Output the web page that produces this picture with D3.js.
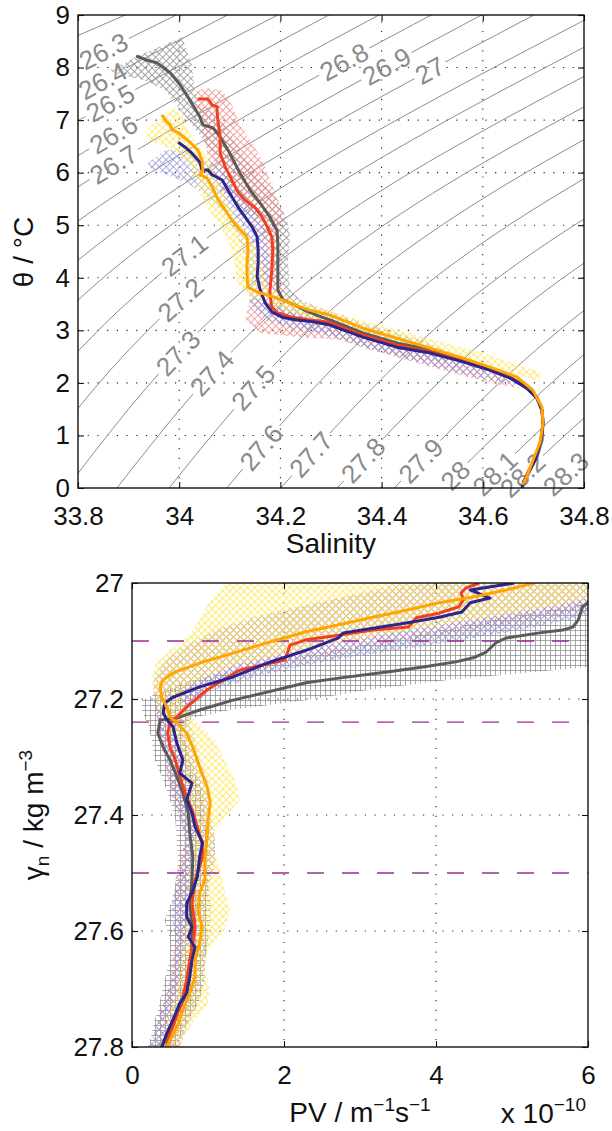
<!DOCTYPE html>
<html>
<head>
<meta charset="utf-8">
<title>Theta-S and PV profiles</title>
<script src="https://d3js.org/d3.v7.min.js"></script>
<style>
  body { margin: 0; background: #fff; }
</style>
</head>
<body>
<div id="chart"></div>
<script>
// ---------- data ----------
const salTicks = [33.8, 34, 34.2, 34.4, 34.6, 34.8];
const thetaTicks = [0, 1, 2, 3, 4, 5, 6, 7, 8, 9];
const pvTicks = [0, 2, 4, 6];
const gammaTicks = [27, 27.2, 27.4, 27.6, 27.8];
const gammaLayers = [27.1, 27.24, 27.5];

// density contours: salinity read at theta = 0, 3, 6, 9.5
const contourLevels = [26.2, 26.3, 26.4, 26.5, 26.6, 26.7, 26.8, 26.9, 27.0, 27.1, 27.2,
  27.3, 27.4, 27.5, 27.6, 27.7, 27.8, 27.9, 28.0, 28.1, 28.2, 28.3];
const contourTheta = [0, 3, 6, 9.5];
const contourSal = [
  [32.297, 32.673, 33.203, 34.014],
  [32.662, 32.950, 33.392, 34.100],
  [32.860, 33.116, 33.525, 34.196],
  [32.949, 33.208, 33.621, 34.296],
  [33.122, 33.358, 33.746, 34.393],
  [33.218, 33.455, 33.844, 34.492],
  [33.307, 33.549, 33.943, 34.596],
  [33.412, 33.651, 34.044, 34.695],
  [33.492, 33.739, 34.140, 34.800],
  [33.583, 33.840, 34.250, 34.921],
  [33.679, 33.938, 34.350, 35.024],
  [33.778, 34.041, 34.457, 35.136],
  [33.877, 34.146, 34.568, 35.253],
  [33.980, 34.256, 34.685, 35.379],
  [34.094, 34.381, 34.821, 35.527],
  [34.201, 34.502, 34.955, 35.678],
  [34.312, 34.626, 35.093, 35.830],
  [34.425, 34.751, 35.229, 35.980],
  [34.520, 34.858, 35.348, 36.110],
  [34.594, 34.940, 35.440, 36.210],
  [34.651, 35.007, 35.515, 36.300],
  [34.733, 35.098, 35.615, 36.410]
];
// contour labels: [level, salinity, theta]
const contourLabels = [
  [26.3, 33.853, 8.26], [26.4, 33.849, 7.76], [26.5, 33.863, 7.33], [26.6, 33.869, 6.76],
  [26.7, 33.873, 6.11], [26.8, 34.328, 8.09], [26.9, 34.409, 8.03], [27.0, 34.496, 7.94],
  [27.1, 34.021, 4.30], [27.2, 34.011, 3.48], [27.3, 34.000, 2.55], [27.4, 34.061, 2.21],
  [27.5, 34.146, 1.92], [27.6, 34.160, 0.78], [27.7, 34.255, 0.69], [27.8, 34.359, 0.57],
  [27.9, 34.472, 0.57], [28.0, 34.541, 0.29], [28.1, 34.618, 0.34], [28.2, 34.673, 0.30],
  [28.3, 34.757, 0.34]
];

// theta-S profiles [salinity, theta]
const tsGray = [[33.915,8.22],[33.936,8.14],[33.956,8.09],[33.982,7.90],[34.002,7.67],[34.021,7.38],
  [34.041,7.06],[34.047,6.91],[34.067,6.85],[34.081,6.68],[34.100,6.37],[34.120,5.99],[34.140,5.67],
  [34.160,5.42],[34.179,5.16],[34.193,4.91],[34.195,4.66],[34.195,4.21],[34.195,3.77],[34.205,3.58],
  [34.229,3.48],[34.255,3.35],[34.282,3.25],[34.298,3.20],[34.363,2.95],[34.430,2.76],[34.496,2.63],
  [34.561,2.44],[34.608,2.28],[34.654,2.11],[34.687,1.92],[34.707,1.73],[34.717,1.48],[34.719,1.24],
  [34.717,0.91],[34.707,0.59],[34.693,0.34],[34.679,0.10]];
const tsRed = [[34.037,7.40],[34.057,7.40],[34.065,7.29],[34.075,7.25],[34.075,7.14],[34.077,6.95],
  [34.081,6.68],[34.081,6.37],[34.091,6.11],[34.104,5.86],[34.116,5.63],[34.130,5.48],[34.150,5.33],
  [34.164,5.16],[34.174,4.97],[34.183,4.78],[34.185,4.53],[34.183,4.15],[34.179,3.71],[34.183,3.44],
  [34.195,3.33],[34.223,3.25],[34.255,3.20],[34.294,3.16],[34.363,2.91],[34.430,2.72],[34.496,2.59],
  [34.561,2.42],[34.608,2.28],[34.654,2.11],[34.687,1.90],[34.707,1.71],[34.717,1.48],[34.719,1.24],
  [34.715,0.91],[34.705,0.59],[34.691,0.34],[34.679,0.06]];
const tsBlue = [[33.998,6.58],[34.011,6.49],[34.025,6.37],[34.041,6.20],[34.045,6.05],[34.057,6.05],
  [34.065,5.96],[34.085,5.86],[34.094,5.71],[34.104,5.54],[34.116,5.35],[34.130,5.16],[34.144,4.97],
  [34.154,4.78],[34.156,4.53],[34.156,4.28],[34.154,4.02],[34.160,3.77],[34.170,3.52],[34.183,3.35],
  [34.203,3.25],[34.229,3.20],[34.268,3.16],[34.298,3.10],[34.363,2.87],[34.430,2.68],[34.496,2.57],
  [34.561,2.40],[34.608,2.26],[34.654,2.09],[34.687,1.90],[34.707,1.71],[34.717,1.48],[34.719,1.24],
  [34.715,0.91],[34.703,0.53],[34.687,0.21],[34.677,0.0]];
const tsOrange = [[33.966,7.10],[33.972,7.00],[33.982,6.91],[33.986,6.82],[33.998,6.76],[34.011,6.66],
  [34.021,6.58],[34.037,6.43],[34.045,6.24],[34.047,6.05],[34.041,5.96],[34.055,5.90],[34.065,5.73],
  [34.077,5.48],[34.091,5.29],[34.104,5.10],[34.120,4.91],[34.134,4.78],[34.136,4.53],[34.134,4.28],
  [34.134,4.02],[34.136,3.82],[34.154,3.73],[34.175,3.67],[34.203,3.58],[34.229,3.48],[34.255,3.39],
  [34.282,3.33],[34.298,3.29],[34.363,3.04],[34.430,2.85],[34.496,2.66],[34.561,2.47],[34.614,2.30],
  [34.668,2.11],[34.699,1.86],[34.717,1.54],[34.719,1.24],[34.713,0.86],[34.699,0.53],[34.687,0.21],
  [34.679,0.06]];

// theta-S spread outlines [salinity, theta]
const tsEnvGray = [[33.863,7.95],[33.923,8.24],[34.006,8.58],[34.011,8.43],[34.025,8.05],[34.031,7.57],
  [34.041,7.29],[34.071,7.10],[34.096,6.82],[34.120,6.43],[34.140,6.15],[34.170,5.77],[34.199,5.39],
  [34.213,5.10],[34.219,4.81],[34.215,4.34],[34.219,3.77],[34.239,3.58],[34.298,3.35],[34.377,3.10],
  [34.476,2.82],[34.535,2.59],[34.529,2.38],[34.456,2.47],[34.377,2.63],[34.318,2.82],[34.258,3.01],
  [34.205,3.23],[34.189,3.58],[34.183,4.15],[34.179,4.62],[34.160,5.00],[34.130,5.29],[34.104,5.58],
  [34.085,5.96],[34.065,6.34],[34.041,6.72],[34.025,6.91],[34.002,7.19],[33.972,7.57],[33.932,7.76],
  [33.883,7.86]];
const tsEnvRed = [[34.031,7.54],[34.051,7.61],[34.085,7.57],[34.104,7.29],[34.120,6.91],[34.140,6.62],
  [34.164,6.24],[34.183,5.77],[34.203,5.29],[34.199,4.72],[34.195,4.15],[34.209,3.58],[34.258,3.29],
  [34.318,3.10],[34.436,2.72],[34.555,2.40],[34.634,2.15],[34.674,1.90],[34.634,1.96],[34.555,2.15],
  [34.436,2.47],[34.318,2.82],[34.239,2.87],[34.160,2.95],[34.130,3.20],[34.140,3.58],[34.156,3.96],
  [34.164,4.53],[34.150,4.91],[34.120,5.29],[34.091,5.58],[34.071,5.86],[34.057,6.24],[34.051,6.62],
  [34.041,7.00],[34.033,7.29]];
const tsEnvBlue = [[33.938,6.18],[33.972,6.43],[34.011,6.43],[34.051,6.24],[34.091,6.05],[34.120,5.67],
  [34.150,5.29],[34.170,4.91],[34.179,4.34],[34.179,3.77],[34.199,3.48],[34.278,3.23],[34.436,2.72],
  [34.594,2.28],[34.674,1.96],[34.594,2.09],[34.436,2.49],[34.298,2.91],[34.229,3.01],[34.170,3.20],
  [34.140,3.48],[34.136,3.96],[34.130,4.43],[34.110,4.91],[34.081,5.29],[34.051,5.58],[34.021,5.77],
  [33.992,5.90],[33.962,6.01],[33.942,6.09]];
const tsEnvOrange = [[33.932,6.76],[33.946,6.91],[33.992,7.23],[34.006,7.16],[34.011,6.91],[34.025,6.68],
  [34.045,6.43],[34.061,6.18],[34.075,5.86],[34.091,5.54],[34.108,5.23],[34.128,4.91],[34.150,4.62],
  [34.164,4.24],[34.170,3.86],[34.219,3.62],[34.357,3.20],[34.476,2.89],[34.594,2.59],[34.713,2.21],
  [34.713,2.02],[34.594,2.36],[34.476,2.68],[34.338,2.97],[34.219,3.35],[34.144,3.63],[34.116,3.86],
  [34.110,4.24],[34.100,4.62],[34.085,4.91],[34.065,5.20],[34.047,5.48],[34.033,5.82],[34.021,6.15],
  [33.998,6.39],[33.962,6.53],[33.938,6.62]];

// PV profiles [PV x1e10, gamma_n]
const pvGray = [[6.2,27.02],[6.00,27.034],[5.93,27.041],[5.87,27.064],[5.80,27.076],[5.67,27.081],
  [5.36,27.086],[4.92,27.095],[4.79,27.103],[4.66,27.119],[4.49,27.129],[4.26,27.136],[3.83,27.145],
  [3.38,27.153],[2.72,27.164],[2.29,27.172],[1.33,27.202],[0.89,27.219],[0.59,27.233],[0.37,27.236],
  [0.34,27.259],[0.41,27.283],[0.50,27.305],[0.59,27.334],[0.67,27.362],[0.74,27.397],[0.76,27.431],
  [0.80,27.472],[0.79,27.512],[0.76,27.552],[0.79,27.593],[0.79,27.628],[0.76,27.667],[0.72,27.707],
  [0.63,27.731],[0.54,27.753],[0.46,27.783],[0.39,27.800]];
const pvRed = [[4.57,27.0],[4.39,27.009],[4.33,27.017],[4.36,27.029],[4.30,27.041],[4.04,27.052],
  [3.74,27.060],[3.64,27.076],[3.17,27.081],[2.72,27.090],[2.29,27.098],[2.08,27.107],[2.01,27.133],
  [1.42,27.150],[0.99,27.184],[0.72,27.214],[0.59,27.231],[0.50,27.241],[0.47,27.259],[0.50,27.283],
  [0.57,27.305],[0.63,27.334],[0.70,27.362],[0.79,27.391],[0.86,27.421],[0.92,27.448],[0.93,27.472],
  [0.83,27.512],[0.79,27.552],[0.83,27.593],[0.80,27.621],[0.76,27.650],[0.72,27.684],[0.66,27.719],
  [0.57,27.753],[0.47,27.788],[0.46,27.80]];
const pvBlue = [[5.03,27.0],[4.45,27.012],[4.71,27.026],[4.45,27.034],[4.34,27.050],[4.04,27.059],
  [3.61,27.069],[3.17,27.078],[2.78,27.086],[2.71,27.095],[2.29,27.116],[1.78,27.138],[1.33,27.162],
  [0.89,27.179],[0.54,27.197],[0.43,27.207],[0.41,27.224],[0.46,27.236],[0.54,27.248],[0.59,27.276],
  [0.67,27.305],[0.63,27.328],[0.79,27.345],[0.72,27.374],[0.79,27.397],[0.83,27.421],[0.93,27.448],
  [0.89,27.472],[0.86,27.507],[0.79,27.534],[0.72,27.552],[0.72,27.576],[0.79,27.593],[0.74,27.610],
  [0.83,27.628],[0.79,27.650],[0.76,27.679],[0.72,27.707],[0.63,27.724],[0.54,27.753],[0.46,27.776],
  [0.39,27.80]];
const pvOrange = [[5.29,27.0],[4.92,27.012],[4.49,27.024],[4.04,27.034],[3.61,27.047],[3.17,27.059],
  [2.72,27.072],[2.29,27.084],[1.78,27.103],[1.33,27.121],[0.89,27.138],[0.54,27.155],[0.41,27.167],
  [0.37,27.179],[0.39,27.197],[0.46,27.214],[0.50,27.231],[0.59,27.241],[0.72,27.259],[0.80,27.283],
  [0.89,27.317],[0.99,27.352],[1.03,27.379],[1.00,27.409],[0.99,27.438],[0.96,27.472],[0.96,27.512],
  [0.89,27.534],[0.87,27.564],[0.92,27.593],[0.89,27.621],[0.83,27.650],[0.83,27.679],[0.76,27.707],
  [0.67,27.736],[0.59,27.766],[0.50,27.788],[0.46,27.80]];

// PV spread [gamma_n, low, high]
const pvEnvGray = [[27.026,6.16,6.16],[27.038,5.87,6.16],[27.064,4.71,6.16],[27.098,3.41,6.16],
  [27.124,2.29,6.16],[27.145,1.55,6.0],[27.167,0.83,4.18],[27.184,0.43,3.13],[27.202,0.13,2.29],
  [27.219,0.13,1.29],[27.233,0.17,0.79],[27.245,0.21,0.70],[27.271,0.26,0.70],[27.305,0.30,0.76],
  [27.340,0.41,0.87],[27.374,0.50,0.96],[27.409,0.57,0.96],[27.443,0.59,0.99],[27.478,0.61,1.03],
  [27.512,0.58,1.00],[27.547,0.53,1.03],[27.581,0.43,1.03],[27.616,0.50,1.00],[27.650,0.50,0.96],
  [27.684,0.43,0.96],[27.719,0.37,0.89],[27.736,0.34,0.83],[27.753,0.30,0.74],[27.788,0.24,0.63],
  [27.800,0.21,0.61]];
const pvEnvRed = [[27.000,3.53,6.16],[27.029,2.61,6.16],[27.055,1.82,5.63],[27.081,1.16,4.45],
  [27.107,0.76,3.26],[27.133,0.47,2.21],[27.159,0.34,1.42],[27.184,0.30,0.96],[27.210,0.30,0.76],
  [27.236,0.33,0.70],[27.271,0.37,0.76],[27.305,0.43,0.83],[27.340,0.47,0.89],[27.374,0.57,1.00],
  [27.409,0.66,1.05],[27.443,0.70,1.09],[27.478,0.63,1.09],[27.512,0.57,1.03],[27.547,0.57,0.96],
  [27.581,0.61,0.96],[27.616,0.57,0.96],[27.650,0.53,0.96],[27.684,0.50,0.89],[27.719,0.43,0.83],
  [27.753,0.34,0.74],[27.788,0.30,0.66],[27.800,0.29,0.63]];
const pvEnvBlue = [[27.000,3.92,6.16],[27.029,2.61,6.16],[27.055,1.68,6.03],[27.081,1.09,5.11],
  [27.107,0.70,3.92],[27.133,0.43,2.61],[27.159,0.30,1.68],[27.184,0.28,1.09],[27.210,0.30,0.79],
  [27.236,0.34,0.76],[27.271,0.37,0.83],[27.305,0.43,0.89],[27.340,0.50,1.00],[27.374,0.53,1.03],
  [27.409,0.63,1.03],[27.443,0.70,1.09],[27.478,0.66,1.09],[27.512,0.61,1.03],[27.547,0.53,0.96],
  [27.581,0.53,0.96],[27.616,0.57,1.00],[27.650,0.57,0.96],[27.684,0.53,0.96],[27.719,0.43,0.87],
  [27.753,0.34,0.76],[27.788,0.26,0.66],[27.800,0.24,0.63]];
const pvEnvOrange = [[27.000,1.22,6.16],[27.021,1.09,6.16],[27.038,0.99,5.63],[27.064,0.89,4.45],
  [27.090,0.74,3.26],[27.116,0.50,2.21],[27.141,0.30,1.36],[27.167,0.26,0.89],[27.184,0.28,0.70],
  [27.210,0.33,0.66],[27.236,0.41,0.83],[27.271,0.57,1.09],[27.305,0.66,1.22],[27.340,0.70,1.36],
  [27.374,0.76,1.42],[27.400,0.79,1.26],[27.426,0.83,1.09],[27.460,0.79,1.07],[27.495,0.76,1.16],
  [27.529,0.74,1.22],[27.564,0.74,1.29],[27.598,0.70,1.22],[27.633,0.67,1.00],[27.667,0.63,0.96],
  [27.702,0.59,1.03],[27.728,0.53,0.99],[27.753,0.47,0.83],[27.779,0.43,0.70],[27.800,0.37,0.63]];

// ---------- styles ----------
const FONT = "'Liberation Sans', Arial, Helvetica, sans-serif";
const lineColor = { gray: "#5b5b5b", red: "#f2401f", blue: "#2c268c", orange: "#ffa600" };
const hatchColor = { gray: "#929292", red: "#f28a8a", blue: "#9a9ad8", orange: "#ffe650" };
const width = 612, height = 1131;

const svg = d3.select("#chart").append("svg")
  .attr("width", width).attr("height", height)
  .style("background", "#fff");
const defs = svg.append("defs");

function hatch(id, color, angle) {
  const p = defs.append("pattern").attr("id", id)
    .attr("patternUnits", "userSpaceOnUse")
    .attr("width", 5).attr("height", 5)
    .attr("patternTransform", `rotate(${angle})`);
  p.append("path").attr("d", "M0,0.5H5M0.5,0V5")
    .attr("stroke", color).attr("stroke-width", 0.8).attr("fill", "none");
}
hatch("hGray", hatchColor.gray, 45);
hatch("hGraySq", hatchColor.gray, 0);
hatch("hRed", hatchColor.red, 45);
hatch("hBlue", hatchColor.blue, 45);
hatch("hOrange", hatchColor.orange, 45);

// ---------- top panel: theta-S ----------
const xS = d3.scaleLinear().domain([33.8, 34.8]).range([78, 584]);
const yT = d3.scaleLinear().domain([0, 9]).range([488, 15]);

defs.append("clipPath").attr("id", "clipTS").append("rect")
  .attr("x", 78).attr("y", 15).attr("width", 506).attr("height", 473);

const ts = svg.append("g");

function grid(g, x, y, xv, yv) {
  const [x0, x1] = x.range(), [ya, yb] = y.range();
  g.append("g").selectAll("line").data(xv).join("line")
    .attr("x1", d => x(d)).attr("x2", d => x(d)).attr("y1", ya).attr("y2", yb);
  g.append("g").selectAll("line").data(yv).join("line")
    .attr("y1", d => y(d)).attr("y2", d => y(d)).attr("x1", x0).attr("x2", x1);
  g.selectAll("line").attr("stroke", "#222").attr("stroke-width", 1.1)
    .attr("stroke-dasharray", "1.2,8.5");
}
grid(ts.append("g"), xS, yT, salTicks.slice(1, -1), thetaTicks.slice(1, -1));

const mask = defs.append("mask").attr("id", "labelGaps")
  .attr("maskUnits", "userSpaceOnUse")
  .attr("x", 0).attr("y", 0).attr("width", width).attr("height", height);
mask.append("rect").attr("width", width).attr("height", height).attr("fill", "#fff");

const cLine = d3.line().x(d => xS(d[0])).y(d => yT(d[1])).curve(d3.curveNatural);
const contours = ts.append("g").attr("clip-path", "url(#clipTS)")
  .append("g").attr("mask", "url(#labelGaps)")
  .selectAll("path").data(contourLevels).join("path")
  .attr("d", (lev, i) => cLine(contourTheta.map((t, j) => [contourSal[i][j], t])))
  .attr("fill", "none").attr("stroke", "#8c8c8c").attr("stroke-width", 1);

const labelG = ts.append("g");
contourLabels.forEach(([lev, s, t]) => {
  const node = contours.nodes()[contourLevels.indexOf(lev)];
  const tx = xS(s), ty = yT(t), L = node.getTotalLength();
  let best = 0, bd = Infinity;
  for (let l = 0; l <= L; l += 1) {
    const p = node.getPointAtLength(l);
    const dd = (p.x - tx) ** 2 + (p.y - ty) ** 2;
    if (dd < bd) { bd = dd; best = l; }
  }
  const p = node.getPointAtLength(best);
  const a = node.getPointAtLength(Math.max(0, best - 10));
  const b = node.getPointAtLength(Math.min(L, best + 10));
  const ang = Math.atan2(b.y - a.y, b.x - a.x) * 180 / Math.PI;
  const tr = `translate(${p.x},${p.y}) rotate(${ang})`;
  const txt = labelG.append("text").attr("transform", tr)
    .attr("text-anchor", "middle").attr("dy", "0.36em")
    .attr("font-family", FONT).attr("font-size", 26).attr("fill", "#8a8a8a")
    .text(lev);
  const w = txt.node().getComputedTextLength();
  mask.append("rect").attr("transform", tr)
    .attr("x", -w / 2 - 3).attr("y", -11).attr("width", w + 6).attr("height", 22)
    .attr("fill", "#000");
});

const tsData = ts.append("g").attr("clip-path", "url(#clipTS)");
const poly = d3.line().x(d => xS(d[0])).y(d => yT(d[1])).curve(d3.curveLinearClosed);
[[tsEnvGray, "hGray"], [tsEnvRed, "hRed"], [tsEnvBlue, "hBlue"], [tsEnvOrange, "hOrange"]]
  .forEach(([d, id]) => tsData.append("path").attr("d", poly(d)).attr("fill", `url(#${id})`));

const tsLine = d3.line().x(d => xS(d[0])).y(d => yT(d[1]));
[[tsGray, "gray"], [tsRed, "red"], [tsBlue, "blue"], [tsOrange, "orange"]]
  .forEach(([d, c]) => tsData.append("path").attr("d", tsLine(d))
    .attr("fill", "none").attr("stroke", lineColor[c]).attr("stroke-width", 3)
    .attr("stroke-linejoin", "round"));

// ---------- bottom panel: PV ----------
const xP = d3.scaleLinear().domain([0, 6]).range([132, 588]);
const yG = d3.scaleLinear().domain([27, 27.8]).range([583, 1047]);

defs.append("clipPath").attr("id", "clipPV").append("rect")
  .attr("x", 132).attr("y", 583).attr("width", 456).attr("height", 464);

const pv = svg.append("g");
grid(pv.append("g"), xP, yG, pvTicks.slice(1, -1), gammaTicks.slice(1, -1));

const pvData = pv.append("g").attr("clip-path", "url(#clipPV)");
const band = d3.area().y(d => yG(d[0])).x0(d => xP(d[1])).x1(d => xP(d[2]));
[[pvEnvGray, "hGraySq"], [pvEnvRed, "hRed"], [pvEnvBlue, "hBlue"], [pvEnvOrange, "hOrange"]]
  .forEach(([d, id]) => pvData.append("path").attr("d", band(d)).attr("fill", `url(#${id})`));

pvData.selectAll(".layer").data(gammaLayers).join("line").attr("class", "layer")
  .attr("x1", 132).attr("x2", 588).attr("y1", d => yG(d)).attr("y2", d => yG(d))
  .attr("stroke", "#962f96").attr("stroke-width", 1.3).attr("stroke-dasharray", "17,18");

const pvLine = d3.line().x(d => xP(d[0])).y(d => yG(d[1]));
[[pvGray, "gray"], [pvRed, "red"], [pvBlue, "blue"], [pvOrange, "orange"]]
  .forEach(([d, c]) => pvData.append("path").attr("d", pvLine(d))
    .attr("fill", "none").attr("stroke", lineColor[c]).attr("stroke-width", 3)
    .attr("stroke-linejoin", "round"));

// ---------- axes ----------
function axes(g, x, y, xv, yv) {
  const [x0, x1] = x.range();
  const yTop = Math.min(...y.range()), yBot = Math.max(...y.range());
  const style = s => s.attr("font-family", FONT).attr("font-size", 26)
    .call(a => a.select(".domain").remove())
    .call(a => a.selectAll("line").attr("stroke", "#111").attr("stroke-width", 1.1))
    .call(a => a.selectAll("text").attr("fill", "#111"));
  g.append("g").attr("transform", `translate(0,${yBot})`)
    .call(d3.axisBottom(x).tickValues(xv).tickSize(-6).tickPadding(19).tickFormat(d => String(d)))
    .call(style);
  g.append("g").attr("transform", `translate(0,${yTop})`)
    .call(d3.axisTop(x).tickValues(xv).tickSize(-6).tickFormat("")).call(style);
  g.append("g").attr("transform", `translate(${x0},0)`)
    .call(d3.axisLeft(y).tickValues(yv).tickSize(-6).tickPadding(8).tickFormat(d => String(d)))
    .call(style);
  g.append("g").attr("transform", `translate(${x1},0)`)
    .call(d3.axisRight(y).tickValues(yv).tickSize(-6).tickFormat("")).call(style);
  g.append("rect").attr("x", x0).attr("y", yTop).attr("width", x1 - x0).attr("height", yBot - yTop)
    .attr("fill", "none").attr("stroke", "#111").attr("stroke-width", 1.4);
}
axes(ts.append("g"), xS, yT, salTicks, thetaTicks);
axes(pv.append("g"), xP, yG, pvTicks, gammaTicks);

// ---------- axis titles ----------
const title = () => svg.append("text").attr("font-family", FONT).attr("font-size", 28).attr("fill", "#111");

title().attr("x", 331).attr("y", 553).attr("text-anchor", "middle").text("Salinity");
title().attr("transform", "translate(33,252) rotate(-90)").attr("text-anchor", "middle").text("θ / °C");

const yl = title().attr("transform", "translate(43,815) rotate(-90)").attr("text-anchor", "middle");
yl.append("tspan").text("γ");
yl.append("tspan").attr("font-size", 19).attr("dy", 6).text("n");
yl.append("tspan").attr("dy", -6).text(" / kg m");
yl.append("tspan").attr("font-size", 19).attr("dy", -11).text("−3");

const xl = title().attr("x", 360).attr("y", 1122).attr("text-anchor", "middle");
xl.append("tspan").text("PV / m");
xl.append("tspan").attr("font-size", 19).attr("dy", -11).text("−1");
xl.append("tspan").attr("dy", 11).text("s");
xl.append("tspan").attr("font-size", 19).attr("dy", -11).text("−1");

const ex = title().attr("x", 586).attr("y", 1123).attr("text-anchor", "end");
ex.append("tspan").text("x 10");
ex.append("tspan").attr("font-size", 19).attr("dy", -12).text("−10");
</script>
</body>
</html>
